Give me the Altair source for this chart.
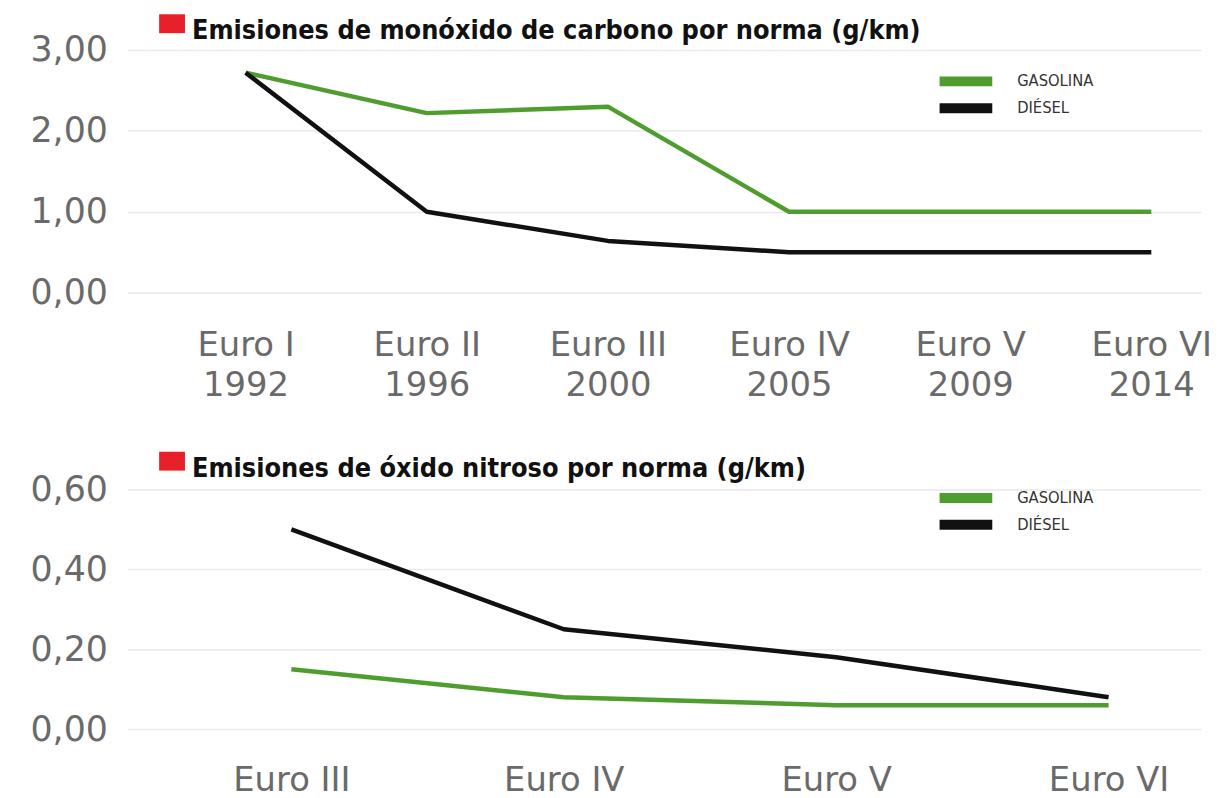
import altair as alt
import pandas as pd

# ---------------- data ----------------
normas_co = ["Euro I", "Euro II", "Euro III", "Euro IV", "Euro V", "Euro VI"]
years_co = ["1992", "1996", "2000", "2005", "2009", "2014"]
co_gasolina = [2.72, 2.22, 2.30, 1.00, 1.00, 1.00]
co_diesel = [2.72, 1.00, 0.64, 0.50, 0.50, 0.50]

normas_nox = ["Euro III", "Euro IV", "Euro V", "Euro VI"]
nox_gasolina = [0.15, 0.08, 0.06, 0.06]
nox_diesel = [0.50, 0.25, 0.18, 0.08]

series = ["GASOLINA", "DIÉSEL"]
title_co = "Emisiones de monóxido de carbono por norma (g/km)"
title_nox = "Emisiones de óxido nitroso por norma (g/km)"
ticks_co = [0, 1, 2, 3]
ticks_nox = [0, 0.2, 0.4, 0.6]

cats_co = [f"{n}|{y}" for n, y in zip(normas_co, years_co)]
df_co = pd.DataFrame(
    [{"cat": c, "serie": series[0], "v": v} for c, v in zip(cats_co, co_gasolina)]
    + [{"cat": c, "serie": series[1], "v": v} for c, v in zip(cats_co, co_diesel)]
)
df_nox = pd.DataFrame(
    [{"cat": c, "serie": series[0], "v": v} for c, v in zip(normas_nox, nox_gasolina)]
    + [{"cat": c, "serie": series[1], "v": v} for c, v in zip(normas_nox, nox_diesel)]
)

GREEN = "#4f9d2f"
BLACK = "#111111"
AXIS_FONT = "DejaVu Sans"
TITLE_FONT = "Liberation Sans Narrow, DejaVu Sans Condensed, sans-serif"
W = 1080


def panel(df, cats, ticks, ymax, h, pad, align, title, legend_y, sq_y, xlab_pad):
    color = alt.Color(
        "serie:N",
        scale=alt.Scale(domain=series, range=[GREEN, BLACK]),
        legend=alt.Legend(
            title=None,
            orient="none",
            legendX=812,
            legendY=legend_y,
            symbolType="stroke",
            symbolStrokeWidth=10,
            symbolSize=2809,
            clipHeight=17,
            rowPadding=10,
            labelOffset=20,
            labelFont=TITLE_FONT,
            labelFontSize=16.5,
            labelColor="#333333",
            padding=0,
        ),
    )
    lines = alt.Chart(df).mark_line(strokeWidth=4.5, strokeJoin="round").encode(
        x=alt.X(
            "cat:N",
            sort=cats,
            scale=alt.Scale(type="point", padding=pad, align=align),
            axis=alt.Axis(
                title=None,
                labelAngle=0,
                labelExpr="split(datum.label, '|')",
                labelFont=AXIS_FONT,
                labelFontSize=34,
                labelColor="#6a6a6a",
                labelLineHeight=40,
                labelBaseline="top",
                labelPadding=xlab_pad,
                ticks=False,
                domain=False,
                grid=False,
            ),
        ),
        y=alt.Y(
            "v:Q",
            scale=alt.Scale(domain=[0, ymax], nice=False),
            axis=alt.Axis(
                title=None,
                values=ticks,
                labelExpr="replace(format(datum.value, '.2f'), '.', ',')",
                labelFont=AXIS_FONT,
                labelFontSize=35,
                labelColor="#6a6a6a",
                labelPadding=20,
                ticks=False,
                domain=False,
                grid=True,
                gridColor="#e9e9e9",
                gridWidth=1.5,
            ),
        ),
        color=color,
    )
    square = alt.Chart(alt.Data(values=[{"k": 1}])).mark_rect(color="#e8202a").encode(
        x=alt.value(32), x2=alt.value(58), y=alt.value(sq_y), y2=alt.value(sq_y + 19)
    )
    heading = alt.Chart(alt.Data(values=[{"t": title}])).mark_text(
        align="left",
        baseline="alphabetic",
        font=TITLE_FONT,
        fontSize=27,
        fontWeight="bold",
        color="#111111",
    ).encode(text="t:N", x=alt.value(65), y=alt.value(sq_y + 25))
    return alt.layer(lines, square, heading).properties(width=W, height=h)


top = panel(df_co, cats_co, ticks_co, 3, 244, 0.4638, 0.704, title_co, 23, -36, 36)
bottom = panel(df_nox, normas_nox, ticks_nox, 0.6, 241, 0.4708, 0.6395, title_nox, 0, -38, 35)

chart = (
    alt.vconcat(top, bottom, spacing=50)
    .resolve_scale(color="independent", x="independent", y="independent")
    .properties(padding={"left": 22, "top": 4, "right": 0, "bottom": 0}, background="white")
    .configure_view(stroke=None)
)

chart.save("out.html", embed_options={"renderer": "svg", "actions": False})
